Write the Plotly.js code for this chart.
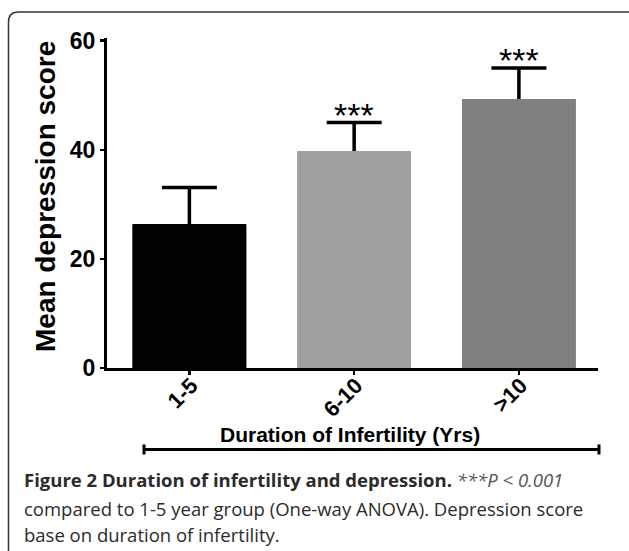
<!DOCTYPE html>
<html>
<head>
<meta charset="utf-8">
<script src="https://cdn.plot.ly/plotly-3.0.1.min.js"></script>
<style>html,body{margin:0;padding:0;background:#fff;}#chart{width:629px;height:551px;}</style>
</head>
<body>
<div id="chart"></div>
<script>
// ---- data ----
const categories = ['1-5', '6-10', '>10'];
const meanScores = [26.4, 39.8, 49.3];
const semValues = [6.7, 5.2, 5.7];
const significance = ['', '***', '***'];
const yTickValues = [0, 20, 40, 60];

// ---- layout helpers (pixel -> paper) ----
const W = 629, H = 551;
const L = 107, R = 31, T = 38, B = 183;
const pw = W - L - R, ph = H - T - B;
const px = x => (x - L) / pw;
const py = y => (H - B - y) / ph;

const barColors = ['#000000', '#a0a0a0', '#808080'];
const axFont = {family: 'Liberation Sans, Arial, sans-serif', color: '#000'};

const traces = [
  { // carries the error bars; covered by the bars drawn after it
    type: 'bar', x: categories, y: meanScores, width: 0.69,
    marker: {color: barColors, line: {width: 0}},
    error_y: {type: 'data', symmetric: false, array: semValues, arrayminus: meanScores,
              color: '#000', thickness: 3.5, width: 27.5},
    hoverinfo: 'skip', showlegend: false
  },
  {
    type: 'bar', x: categories, y: meanScores, width: 0.69,
    marker: {color: barColors, line: {width: 0}, cornerradius: 2},
    hoverinfo: 'skip', showlegend: false
  }
];

const annotations = [];
categories.forEach((c, i) => {
  if (significance[i]) {
    annotations.push({
      x: c, y: meanScores[i] + semValues[i], xref: 'x', yref: 'y',
      text: significance[i], showarrow: false, yanchor: 'bottom', yshift: -13,
      font: Object.assign({}, axFont, {size: 34})
    });
  }
});
annotations.push({
  xref: 'paper', yref: 'paper', x: px(45), y: py(197), textangle: -90,
  text: 'Mean depression score', showarrow: false, xanchor: 'center', yanchor: 'middle',
  font: Object.assign({}, axFont, {size: 28, weight: 'bold'})
});
annotations.push({
  xref: 'paper', yref: 'paper', x: px(350), y: py(434), 
  text: 'Duration of Infertility (Yrs)', showarrow: false, xanchor: 'center', yanchor: 'middle',
  font: Object.assign({}, axFont, {size: 21, weight: 'bold'})
});
const capFont = {family: 'Open Sans, Noto Sans, sans-serif', size: 18.5, color: '#2b2b2b'};
const captionLines = [
  '<b>Figure 2 Duration of infertility and depression.</b> <i><span style="color:#555">***P &lt; 0.001</span></i>',
  'compared to 1-5 year group (One-way ANOVA). Depression score',
  'base on duration of infertility.'
];
const captionY = [479.5, 508.5, 534.5];
captionLines.forEach((t, i) => {
  annotations.push({
    xref: 'paper', yref: 'paper', x: px(23), y: py(captionY[i]), text: t, borderpad: 0,
    showarrow: false, xanchor: 'left', yanchor: 'middle', align: 'left', font: capFont
  });
});

// rounded frame
const fx0 = px(8.5), fx1 = px(640), fy0 = py(12), fy1 = py(560);
const rx = 10 / pw, ry = 10 / ph;
const framePath = `M ${fx0} ${fy1} L ${fx0} ${fy0 - ry} Q ${fx0} ${fy0} ${fx0 + rx} ${fy0} L ${fx1} ${fy0}`;

const shapes = [
  {type: 'path', xref: 'paper', yref: 'paper', path: framePath, line: {color: '#333', width: 1.5}},
  {type: 'line', xref: 'paper', yref: 'paper', x0: px(143), x1: px(600), y0: py(449.5), y1: py(449.5), line: {color: '#000', width: 3}},
  {type: 'line', xref: 'paper', yref: 'paper', x0: px(144), x1: px(144), y0: py(444.5), y1: py(454.5), line: {color: '#000', width: 3}},
  {type: 'line', xref: 'paper', yref: 'paper', x0: px(599), x1: px(599), y0: py(444.5), y1: py(454.5), line: {color: '#000', width: 3}}
];

const layout = {
  width: W, height: H,
  margin: {l: L, r: R, t: T, b: B, pad: 0},
  paper_bgcolor: '#fff', plot_bgcolor: '#fff',
  barmode: 'overlay', showlegend: false,
  xaxis: {
    type: 'category', range: [-0.5, 2.48], showgrid: false, zeroline: false,
    showline: true, linecolor: '#000', linewidth: 3,
    ticks: 'outside', ticklen: 4, tickwidth: 2.5, tickcolor: '#000',
    tickangle: -45, ticklabelstandoff: -11, ticklabelshift: 2,
    tickfont: Object.assign({}, axFont, {size: 22, weight: 'bold'}),
    fixedrange: true
  },
  yaxis: {
    range: [0, 60.5], tickvals: yTickValues, ticktext: yTickValues.map(String),
    showgrid: false, zeroline: false,
    showline: true, linecolor: '#000', linewidth: 3,
    ticks: 'outside', ticklen: 4, tickwidth: 2.5, tickcolor: '#000',
    tickfont: Object.assign({}, axFont, {size: 23, weight: 'bold'}),
    fixedrange: true
  },
  annotations: annotations,
  shapes: shapes
};

Plotly.newPlot('chart', traces, layout, {displayModeBar: false, staticPlot: true});
</script>
</body>
</html>
